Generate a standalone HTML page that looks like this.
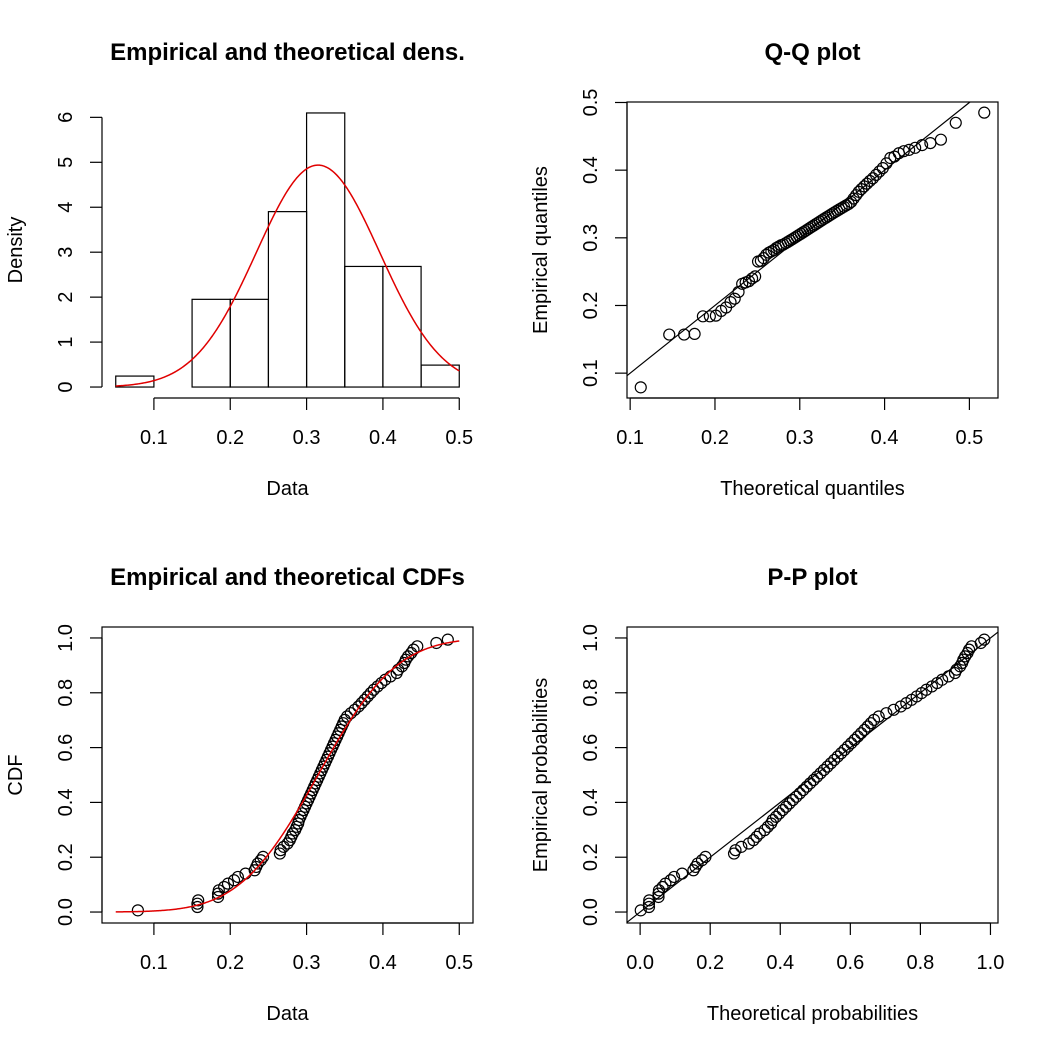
<!DOCTYPE html>
<html><head><meta charset="utf-8"><style>
html,body{margin:0;padding:0;background:#fff;}
svg{display:block;font-family:"Liberation Sans",Arial,sans-serif;}
</style></head><body>
<svg id="fig" width="1050" height="1050" viewBox="0 0 1050 1050" xmlns="http://www.w3.org/2000/svg"></svg>
<script>
const sample = [0.079,
0.157,0.157,0.158,0.184,0.184,0.185,0.192,0.197,
0.205,0.21,0.22,0.232,0.234,0.236,0.24,0.243,
0.265,0.266,0.27,0.275,0.278,0.28,0.282,0.285,0.287,0.289,0.29,0.292,0.294,0.296,0.298,0.3,
0.302,0.304,0.306,0.308,0.31,0.312,0.314,0.316,0.318,0.32,0.322,0.324,0.326,0.328,0.33,0.332,0.334,0.336,0.338,0.34,0.342,0.344,0.346,0.348,0.35,
0.353,0.358,0.363,0.368,0.372,0.376,0.38,0.384,0.388,0.393,0.398,
0.403,0.41,0.418,0.42,0.425,0.428,0.43,0.433,0.437,0.44,0.445,
0.47,0.485];
const histBreaks = [0.05,0.1,0.15,0.2,0.25,0.3,0.35,0.4,0.45,0.5];
const fitMean = 0.315;
const fitSd = 0.0808;
const dataTicks = [0.1,0.2,0.3,0.4,0.5];
const densTicks = [0,1,2,3,4,5,6];
const qqTicks = [0.1,0.2,0.3,0.4,0.5];
const probTicks = [0,0.2,0.4,0.6,0.8,1.0];

const NS="http://www.w3.org/2000/svg";
const svg=document.getElementById('fig');
function mk(tag,attrs,parent){const e=document.createElementNS(NS,tag);for(const k in attrs)e.setAttribute(k,attrs[k]);(parent||svg).appendChild(e);return e;}
function erf(x){const s=x<0?-1:1;x=Math.abs(x);const t=1/(1+0.3275911*x);const y=1-(((((1.061405429*t-1.453152027)*t)+1.421413741)*t-0.284496736)*t+0.254829592)*t*Math.exp(-x*x);return s*y;}
function pnorm(x){return 0.5*(1+erf((x-fitMean)/(fitSd*Math.SQRT2)));}
function dnorm(x){const z=(x-fitMean)/fitSd;return Math.exp(-0.5*z*z)/(fitSd*Math.sqrt(2*Math.PI));}
function qstd(p){
const a=[-39.69683028665376,220.9460984245205,-275.9285104469687,138.3577518672690,-30.66479806614716,2.506628277459239];
const b=[-54.47609879822406,161.5858368580409,-155.6989798598866,66.80131188771972,-13.28068155288572];
const c=[-0.007784894002430293,-0.3223964580411365,-2.400758277161838,-2.549732539343734,4.374664141464968,2.938163982698783];
const d=[0.007784695709041462,0.3224671290700398,2.445134137142996,3.754408661907416];
let q,r;if(p<0.02425){q=Math.sqrt(-2*Math.log(p));return(((((c[0]*q+c[1])*q+c[2])*q+c[3])*q+c[4])*q+c[5])/((((d[0]*q+d[1])*q+d[2])*q+d[3])*q+1);}
if(p>1-0.02425){q=Math.sqrt(-2*Math.log(1-p));return-(((((c[0]*q+c[1])*q+c[2])*q+c[3])*q+c[4])*q+c[5])/((((d[0]*q+d[1])*q+d[2])*q+d[3])*q+1);}
q=p-0.5;r=q*q;return(((((a[0]*r+a[1])*r+a[2])*r+a[3])*r+a[4])*r+a[5])*q/(((((b[0]*r+b[1])*r+b[2])*r+b[3])*r+b[4])*r+1);}
function qnorm(p){return fitMean+fitSd*qstd(p);}

const srt=sample.slice().sort((a,b)=>a-b);
const n=srt.length;
const ppos=srt.map((v,i)=>(i+0.5)/n);

function panel(ox,oy,xlim,ylim,name){
  const L=ox+102,R=ox+473,T=oy+102,B=oy+398;
  const g=mk('g',{});
  
  
  return {g,L,R,T,B,
    sx:v=>L+(v-xlim[0])/(xlim[1]-xlim[0])*(R-L),
    sy:v=>B-(v-ylim[0])/(ylim[1]-ylim[0])*(B-T)};
}
function exp4(lo,hi){const d=(hi-lo)*0.04;return[lo-d,hi+d];}
function txt(p,x,y,s,opts,name){const t=mk('text',Object.assign({x:x,y:y,'text-anchor':'middle','font-size':20,fill:'#000'},opts||{}),p);t.textContent=s;
  return t;}
function xaxis(P,ticks,fmt,lineFrom,lineTo){
  const y=P.B;
  const ln=mk('line',{x1:P.sx(lineFrom),x2:P.sx(lineTo),y1:y,y2:y,stroke:'#000','stroke-width':1.2},P.g);
  
  ticks.forEach(t=>{const tk=mk('line',{x1:P.sx(t),x2:P.sx(t),y1:y,y2:y+12,stroke:'#000','stroke-width':1.2},P.g);
    
    txt(P.g,P.sx(t),y+46,fmt(t),{},'x-tick-label');});
}
function yaxis(P,ticks,fmt,lineFrom,lineTo){
  const x=P.L;
  const ln=mk('line',{x1:x,x2:x,y1:P.sy(lineFrom),y2:P.sy(lineTo),stroke:'#000','stroke-width':1.2},P.g);
  
  ticks.forEach(t=>{const yy=P.sy(t);const tk=mk('line',{x1:x-12,x2:x,y1:yy,y2:yy,stroke:'#000','stroke-width':1.2},P.g);
    
    txt(P.g,x-30,yy,fmt(t),{transform:`rotate(-90 ${x-30} ${yy})`},'y-tick-label');});
}
function labels(P,title,xl,yl){
  const cx=(P.L+P.R)/2,cy=(P.T+P.B)/2;
  txt(P.g,cx,P.T-42,title,{'font-size':24,'font-weight':'bold'},'panel-title');
  txt(P.g,cx,P.B+97,xl,{},'x-axis-title');
  txt(P.g,P.L-80,cy,yl,{transform:`rotate(-90 ${P.L-80} ${cy})`},'y-axis-title');
}
function box(P){const r=mk('rect',{x:P.L,y:P.T,width:P.R-P.L,height:P.B-P.T,fill:'none',stroke:'#000','stroke-width':1.2},P.g);
  }
function circles(P,xs,ys,name){xs.forEach((x,i)=>{const c=mk('circle',{cx:P.sx(x),cy:P.sy(ys[i]),r:5.5,fill:'none',stroke:'#000','stroke-width':1.2},P.g);
  });}
function curve(P,f,lo,hi,name){const pts=[];for(let i=0;i<=300;i++){const x=lo+(hi-lo)*i/300;pts.push(P.sx(x).toFixed(2)+','+P.sy(f(x)).toFixed(2));}
  const pl=mk('polyline',{points:pts.join(' '),fill:'none',stroke:'#e00000','stroke-width':1.5},P.g);
  }
function diag(P,xlim,ylim,name){
  const lo=Math.max(xlim[0],ylim[0]),hi=Math.min(xlim[1],ylim[1]);
  const l=mk('line',{x1:P.sx(lo),y1:P.sy(lo),x2:P.sx(hi),y2:P.sy(hi),stroke:'#000','stroke-width':1.2},P.g);
  
}
const f1=v=>String(v);
const f2=v=>v.toFixed(1);

// Panel 1: histogram
const counts=histBreaks.slice(0,-1).map((b,i)=>srt.filter(v=>v>b&&v<=histBreaks[i+1]||(i===0&&v===b)).length);
const dens=counts.map((c,i)=>c/(n*(histBreaks[i+1]-histBreaks[i])));
const maxD=Math.max(...dens);
{
  const xl=exp4(histBreaks[0],histBreaks[histBreaks.length-1]);
  const yl=exp4(0,maxD);
  const P=panel(0,0,xl,yl,'density-panel');
  dens.forEach((d,i)=>{const r=mk('rect',{x:P.sx(histBreaks[i]),y:P.sy(d),width:P.sx(histBreaks[i+1])-P.sx(histBreaks[i]),height:P.sy(0)-P.sy(d),fill:'none',stroke:'#000','stroke-width':1.2},P.g);
    });
  curve(P,dnorm,histBreaks[0],histBreaks[histBreaks.length-1],'fitted-density-curve');
  xaxis(P,dataTicks,f2,dataTicks[0],dataTicks[dataTicks.length-1]);
  const yt=densTicks.filter(t=>t<=maxD);
  yaxis(P,yt,f1,yt[0],yt[yt.length-1]);
  labels(P,'Empirical and theoretical dens.','Data','Density');
}
// Panel 2: Q-Q
{
  const th=ppos.map(qnorm);
  const xl=exp4(th[0],th[n-1]);
  const yc=(srt[0]+srt[n-1])/2,half=(xl[1]-xl[0])/2;
  const yl=[yc-half,yc+half];
  const P=panel(525,0,xl,yl,'qq-panel');
  diag(P,[xl[0],xl[1]+1],[yl[0]-1,yl[1]],'qq-reference-line');
  circles(P,th,srt,'qq-point');
  box(P);
  xaxis(P,qqTicks,f1,qqTicks[0],qqTicks[qqTicks.length-1]);
  yaxis(P,qqTicks,f1,qqTicks[0],qqTicks[qqTicks.length-1]);
  labels(P,'Q-Q plot','Theoretical quantiles','Empirical quantiles');
}
// Panel 3: CDF
{
  const xl=exp4(histBreaks[0],histBreaks[histBreaks.length-1]);
  const yl=exp4(0,1);
  const P=panel(0,525,xl,yl,'cdf-panel');
  circles(P,srt,ppos,'ecdf-point');
  curve(P,pnorm,histBreaks[0],histBreaks[histBreaks.length-1],'fitted-cdf-curve');
  box(P);
  xaxis(P,dataTicks,f2,dataTicks[0],dataTicks[dataTicks.length-1]);
  yaxis(P,probTicks,f2,0,1);
  labels(P,'Empirical and theoretical CDFs','Data','CDF');
}
// Panel 4: P-P
{
  const tp=srt.map(pnorm);
  const xl=exp4(tp[0],tp[n-1]);
  const yl=exp4(0,1);
  const P=panel(525,525,xl,yl,'pp-panel');
  diag(P,xl,yl,'pp-reference-line');
  circles(P,tp,ppos,'pp-point');
  box(P);
  xaxis(P,probTicks,f2,0,1);
  yaxis(P,probTicks,f2,0,1);
  labels(P,'P-P plot','Theoretical probabilities','Empirical probabilities');
}
</script>
</body></html>
